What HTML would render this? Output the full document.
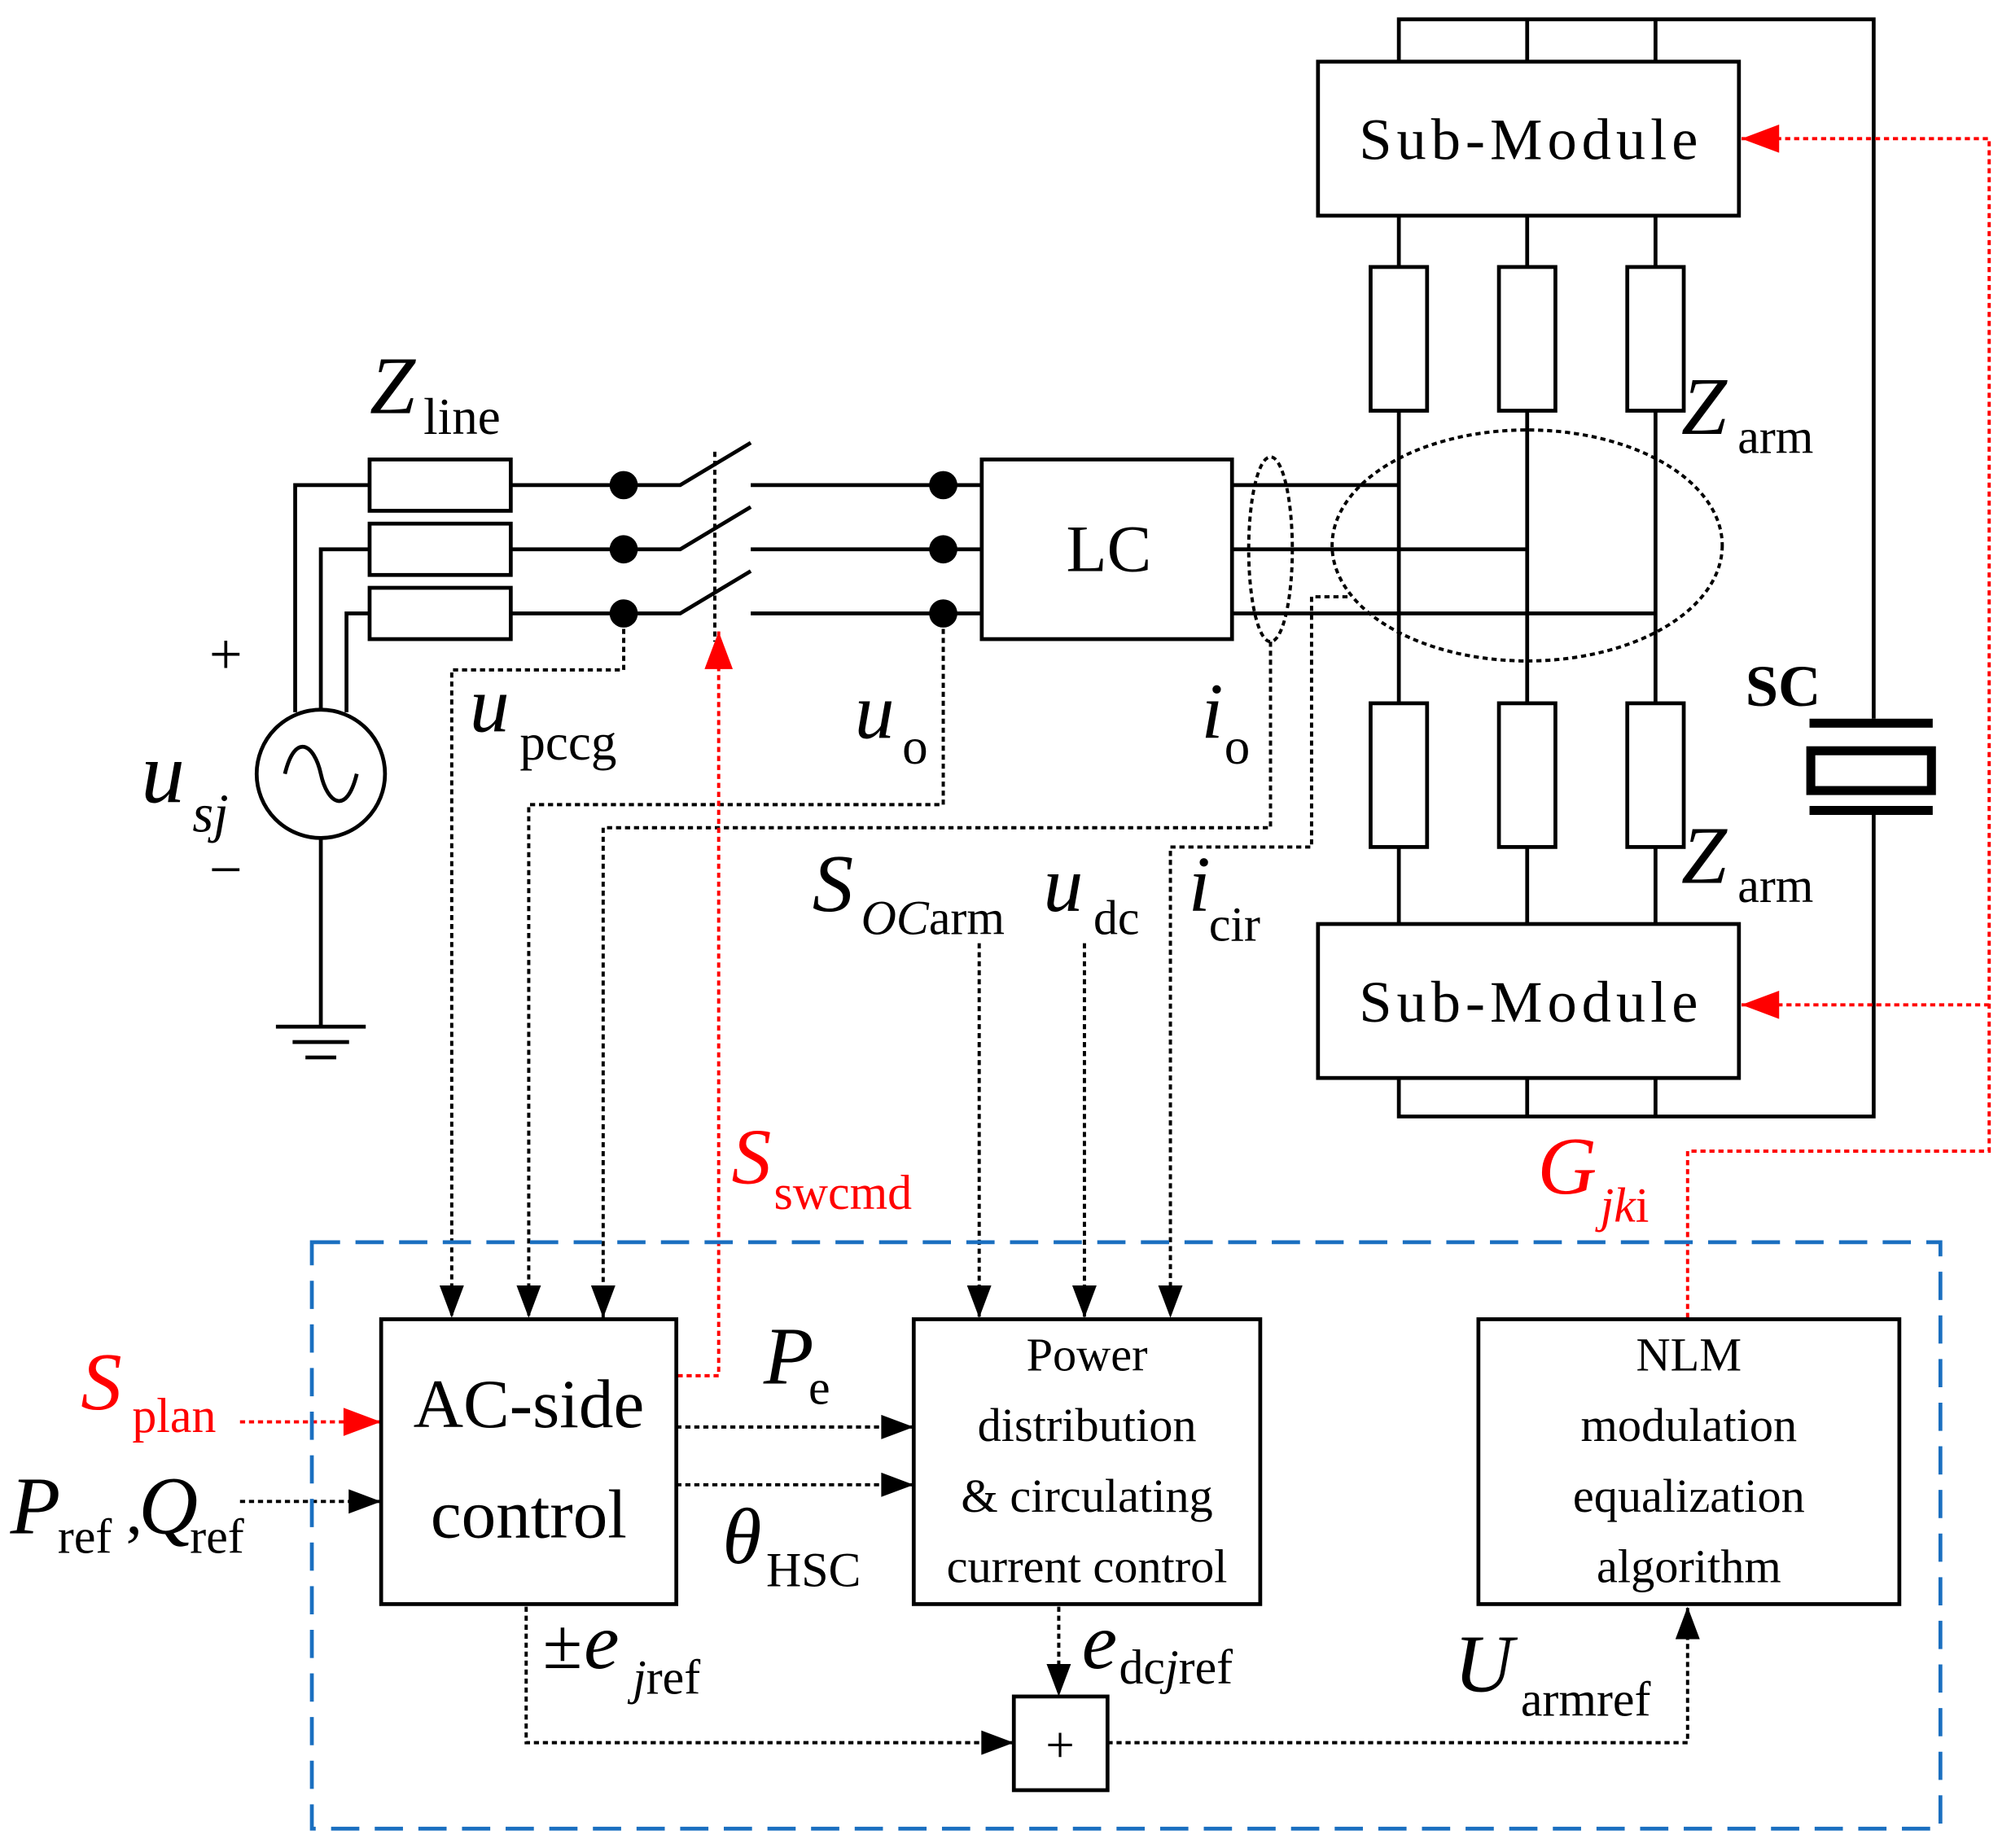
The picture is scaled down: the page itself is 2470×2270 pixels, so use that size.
<!DOCTYPE html>
<html><head><meta charset="utf-8"><style>
html,body{margin:0;padding:0;background:#fff;}
svg{display:block;}
text{font-family:"Liberation Serif",serif;}
</style></head><body>
<svg width="2470" height="2270" viewBox="0 0 1567 1440" xmlns="http://www.w3.org/2000/svg">
<defs>
<marker id="ab" viewBox="0 0 12 9" refX="12" refY="4.5" markerWidth="26" markerHeight="19" markerUnits="userSpaceOnUse" orient="auto"><path d="M0,0L12,4.5L0,9z" fill="#000"/></marker>
<marker id="ar" viewBox="0 0 12 9" refX="12" refY="4.5" markerWidth="30" markerHeight="22" markerUnits="userSpaceOnUse" orient="auto"><path d="M0,0L12,4.5L0,9z" fill="#f00"/></marker>
</defs>
<style>
.s{stroke:#000;stroke-width:3;fill:none}
.d{stroke:#000;stroke-width:2.5;fill:none;stroke-dasharray:4 3}
.r{stroke:#f00;stroke-width:2.5;fill:none;stroke-dasharray:4 3}
</style>
<path class="s" d="M1090,48V15H1460V560M1190,15V48M1290,15V48"/>
<rect class="s" x="1027" y="48" width="328" height="120"/>
<text x="1191" y="124" font-family="Liberation Mono, monospace" font-size="46" text-anchor="middle" textLength="264">Sub-Module</text>
<path class="s" d="M1090,168V208M1190,168V208M1290,168V208M1090,320V548M1190,320V548M1290,320V548M1090,660V720M1190,660V720M1290,660V720"/>
<rect class="s" x="1068" y="208" width="44" height="112"/>
<rect class="s" x="1168" y="208" width="44" height="112"/>
<rect class="s" x="1268" y="208" width="44" height="112"/>
<rect class="s" x="1068" y="548" width="44" height="112"/>
<rect class="s" x="1168" y="548" width="44" height="112"/>
<rect class="s" x="1268" y="548" width="44" height="112"/>
<rect class="s" x="1027" y="720" width="328" height="120"/>
<text x="1191" y="796" font-family="Liberation Mono, monospace" font-size="46" text-anchor="middle" textLength="264">Sub-Module</text>
<path class="s" d="M1090,840V870H1460V633M1190,840V870M1290,840V870"/>
<rect x="1410" y="560" width="96" height="7" fill="#000"/>
<rect x="1410" y="628" width="96" height="7" fill="#000"/>
<rect x="1411" y="585" width="94" height="31" fill="none" stroke="#000" stroke-width="7"/>
<text x="1360" y="550" font-size="46" font-weight="bold">SC</text>
<text x="1310" y="338" font-size="64" font-style="italic">Z</text><text x="1354" y="353" font-size="38">arm</text>
<text x="1310" y="688" font-size="64" font-style="italic">Z</text><text x="1354" y="703" font-size="38">arm</text>
<circle class="s" cx="250" cy="603" r="50"/>
<path class="s" d="M222,603 C230,570 245,580 250,603 S270,636 278,603"/>
<path class="s" d="M230,555V378H288M250,553V428H288M270,555V478H288M250,653V800"/>
<path class="s" d="M215,800H285M228,812H272M238,824H262"/>
<text x="163" y="525" font-size="46">+</text>
<text x="163" y="693" font-size="46">−</text>
<text x="110" y="625" font-size="68" font-style="italic">u</text><text x="150" y="648" font-size="42" font-style="italic">sj</text>
<rect class="s" x="288" y="358" width="110" height="40"/>
<rect class="s" x="288" y="408" width="110" height="40"/>
<rect class="s" x="288" y="458" width="110" height="40"/>
<text x="288" y="322" font-size="64" font-style="italic">Z</text><text x="330" y="338" font-size="40">line</text>
<path class="s" d="M398,378H530L585,345M398,428H530L585,395M398,478H530L585,445M585,378H765M585,428H765M585,478H765"/>
<path class="d" d="M557,352V500"/>
<circle cx="486" cy="378" r="11"/><circle cx="486" cy="428" r="11"/><circle cx="486" cy="478" r="11"/>
<circle cx="735" cy="378" r="11"/><circle cx="735" cy="428" r="11"/><circle cx="735" cy="478" r="11"/>
<rect class="s" x="765" y="358" width="195" height="140"/>
<text x="864" y="445" font-size="52" text-anchor="middle">LC</text>
<path class="s" d="M960,378H1090M960,428H1190M960,478H1290"/>
<ellipse class="d" cx="990" cy="428" rx="17" ry="72"/>
<ellipse class="d" cx="1190" cy="425" rx="152" ry="90"/>
<path class="d" d="M486,490V522H352V1027" marker-end="url(#ab)"/>
<path class="d" d="M735,490V627H412V1027" marker-end="url(#ab)"/>
<path class="d" d="M990,500V645H470V1027" marker-end="url(#ab)"/>
<path class="d" d="M1050,465H1022V660H912V1027" marker-end="url(#ab)"/>
<path class="d" d="M763,735V1027" marker-end="url(#ab)"/>
<path class="d" d="M845,735V1027" marker-end="url(#ab)"/>
<text x="366" y="570" font-size="62" font-style="italic">u</text><text x="405" y="592" font-size="40">pccg</text>
<text x="666" y="575" font-size="62" font-style="italic">u</text><text x="703" y="595" font-size="40">o</text>
<text x="936" y="575" font-size="62" font-style="italic">i</text><text x="954" y="595" font-size="40">o</text>
<text x="633" y="710" font-size="64" font-style="italic">S</text><text x="671" y="728" font-size="38"><tspan font-style="italic">OC</tspan>arm</text>
<text x="813" y="710" font-size="62" font-style="italic">u</text><text x="852" y="728" font-size="38">dc</text>
<text x="926" y="710" font-size="62" font-style="italic">i</text><text x="942" y="733" font-size="38">cir</text>
<path class="r" d="M528,1072H560V492" marker-end="url(#ar)"/>
<path class="r" d="M1315,1027V897H1550V108H1357" marker-end="url(#ar)"/>
<path class="r" d="M1550,783H1357" marker-end="url(#ar)"/>
<path class="r" d="M187,1108H297" marker-end="url(#ar)"/>
<text x="570" y="922" font-size="62" font-style="italic" fill="#f00">S</text><text x="603" y="942" font-size="38" fill="#f00">swcmd</text>
<text x="1198" y="930" font-size="64" font-style="italic" fill="#f00">G</text><text x="1247" y="952" font-size="38" fill="#f00"><tspan font-style="italic">jk</tspan>i</text>
<text x="63" y="1098" font-size="64" font-style="italic" fill="#f00">S</text><text x="103" y="1116" font-size="38" fill="#f00">plan</text>
<path class="d" d="M187,1170H297" marker-end="url(#ab)"/>
<text x="8" y="1195" font-size="64" font-style="italic">P</text><text x="45" y="1210" font-size="38">ref</text>
<text x="98" y="1195" font-size="52">,</text>
<text x="108" y="1195" font-size="64" font-style="italic">Q</text><text x="148" y="1210" font-size="38">ref</text>
<rect x="243" y="968" width="1269" height="457" fill="none" stroke="#1a6fc0" stroke-width="3" stroke-dasharray="22 12"/>
<rect class="s" x="297" y="1028" width="230" height="222"/>
<text x="412" y="1112" font-size="54" text-anchor="middle">AC-side</text>
<text x="412" y="1198" font-size="54" text-anchor="middle">control</text>
<rect class="s" x="712" y="1028" width="270" height="222"/>
<text x="847" y="1068" font-size="37" text-anchor="middle">Power</text>
<text x="847" y="1123" font-size="37" text-anchor="middle">distribution</text>
<text x="847" y="1178" font-size="37" text-anchor="middle">&amp; circulating</text>
<text x="847" y="1233" font-size="37" text-anchor="middle">current control</text>
<rect class="s" x="1152" y="1028" width="328" height="222"/>
<text x="1316" y="1068" font-size="37" text-anchor="middle">NLM</text>
<text x="1316" y="1123" font-size="37" text-anchor="middle">modulation</text>
<text x="1316" y="1178" font-size="37" text-anchor="middle">equalization</text>
<text x="1316" y="1233" font-size="37" text-anchor="middle">algorithm</text>
<path class="d" d="M527,1112H712" marker-end="url(#ab)"/>
<path class="d" d="M527,1157H712" marker-end="url(#ab)"/>
<text x="595" y="1078" font-size="64" font-style="italic">P</text><text x="630" y="1094" font-size="38">e</text>
<text x="563" y="1218" font-size="62" font-style="italic">θ</text><text x="597" y="1236" font-size="38">HSC</text>
<rect class="s" x="790" y="1322" width="73" height="73"/>
<text x="826" y="1373" font-size="40" text-anchor="middle">+</text>
<path class="d" d="M825,1252V1322" marker-end="url(#ab)"/>
<path class="d" d="M410,1252V1358H790" marker-end="url(#ab)"/>
<path class="d" d="M863,1358H1315V1252" marker-end="url(#ab)"/>
<text x="423" y="1300" font-size="56">±</text><text x="455" y="1300" font-size="62" font-style="italic">e</text><text x="493" y="1320" font-size="38"><tspan font-style="italic">j</tspan>ref</text>
<text x="843" y="1300" font-size="62" font-style="italic">e</text><text x="872" y="1312" font-size="38">dc<tspan font-style="italic">j</tspan>ref</text>
<text x="1133" y="1318" font-size="64" font-style="italic">U</text><text x="1185" y="1337" font-size="38">armref</text>
</svg>
</body></html>
